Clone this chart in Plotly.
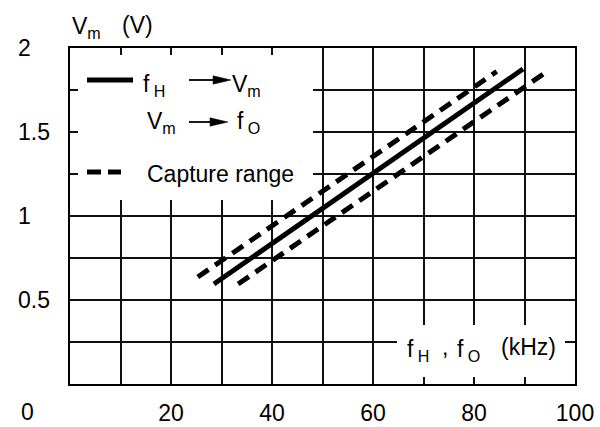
import plotly.graph_objects as go

# ---- data ----
solid_fH = [28.5, 89.7]
solid_Vm = [0.595, 1.875]
upper_f = [25.3, 84.5]
upper_V = [0.637, 1.86]
lower_f = [33.3, 94.7]
lower_V = [0.595, 1.865]

x_grid_vals = [10, 20, 30, 40, 50, 60, 70, 80, 90, 100]
x_tick_text = ["", "20", "", "40", "", "60", "", "80", "", "100"]
y_label_vals = [0.5, 1.0, 1.5, 2.0]
y_label_text = ["0.5", "1", "1.5", "2"]

FONT = "Liberation Sans, Arial, Helvetica, sans-serif"
FS = 23
W, H = 600, 427
L, R, T, B = 70, 25, 48, 43
PW, PH = W - L - R, H - T - B


def px(xp):
    return (xp - L) / PW


def py(yp):
    return (T + PH - yp) / PH


def dx(xp):
    return (xp - L) / PW * 100


def dy(yp):
    return (T + PH - yp) / PH * 2


fig = go.Figure()


def white_box(x0, x1, y0, y1):
    fig.add_trace(go.Scatter(
        x=[dx(x0), dx(x1), dx(x1), dx(x0), dx(x0)],
        y=[dy(y0), dy(y0), dy(y1), dy(y1), dy(y0)],
        mode="lines", fill="toself", fillcolor="white",
        line=dict(width=0, color="white"), showlegend=False, hoverinfo="skip"))


white_box(78, 313, 55, 200)
white_box(397, 565, 325, 377)

fig.add_trace(go.Scatter(x=solid_fH, y=solid_Vm, mode="lines",
                         line=dict(color="black", width=5), showlegend=False,
                         hoverinfo="skip"))
fig.add_trace(go.Scatter(x=upper_f, y=upper_V, mode="lines",
                         line=dict(color="black", width=5, dash="13px,8px"),
                         showlegend=False, hoverinfo="skip"))
fig.add_trace(go.Scatter(x=lower_f, y=lower_V, mode="lines",
                         line=dict(color="black", width=5, dash="13px,8px"),
                         showlegend=False, hoverinfo="skip"))

shapes = []
# legend samples
shapes.append(dict(type="line", xref="paper", yref="paper",
                   x0=px(87), x1=px(133), y0=py(80), y1=py(80),
                   line=dict(color="black", width=5)))
shapes.append(dict(type="line", xref="paper", yref="paper",
                   x0=px(87), x1=px(101), y0=py(172), y1=py(172),
                   line=dict(color="black", width=5)))
shapes.append(dict(type="line", xref="paper", yref="paper",
                   x0=px(108), x1=px(121), y0=py(172), y1=py(172),
                   line=dict(color="black", width=5)))


def arrow(x0, x1, yy):
    shapes.append(dict(type="line", xref="paper", yref="paper",
                       x0=px(x0), x1=px(x1 - 15), y0=py(yy), y1=py(yy),
                       line=dict(color="black", width=1.8)))
    path = "M {:.5f},{:.5f} L {:.5f},{:.5f} L {:.5f},{:.5f} Z".format(
        px(x1 - 18), py(yy - 4.2), px(x1), py(yy), px(x1 - 18), py(yy + 4.2))
    shapes.append(dict(type="path", xref="paper", yref="paper", path=path,
                       fillcolor="black", line=dict(color="black", width=0.5)))


arrow(189, 231, 80)
arrow(189, 228, 122)

ann = []


def text(t, xp, yp, xanchor="left", size=FS):
    ann.append(dict(text=t, xref="paper", yref="paper", x=px(xp), y=py(yp),
                    xanchor=xanchor, yanchor="middle", showarrow=False,
                    font=dict(family=FONT, size=size, color="black")))


text("f<sub>&nbsp;H</sub>", 141, 85)
text("V<sub>m</sub>", 230, 85)
text("V<sub>m</sub>", 145, 122)
text("f<sub>&nbsp;O</sub>", 235, 122)
text("Capture range", 145, 174)
text("V<sub>m</sub>", 70, 28)
text("(V)", 120, 25)
# x-axis title pieces
text("f<sub>&nbsp;H</sub>", 405, 350)
text(",", 440, 347)
text("f<sub>&nbsp;O</sub>", 455, 350)
text("(kHz)", 499, 347)
text("0", 27, 412, xanchor="center")

for v, t in zip(y_label_vals, y_label_text):
    ann.append(dict(text=t, xref="paper", yref="y", x=px(16), y=v,
                    xanchor="left", yanchor="middle", showarrow=False,
                    font=dict(family=FONT, size=FS, color="black")))

fig.update_layout(
    width=W, height=H,
    margin=dict(l=L, r=R, t=T, b=B, autoexpand=False),
    paper_bgcolor="white", plot_bgcolor="white",
    font=dict(family=FONT, size=FS, color="black"),
    shapes=shapes, annotations=ann,
    showlegend=False,
)
fig.update_xaxes(range=[0, 100], tickvals=x_grid_vals, ticktext=x_tick_text,
                 showgrid=True, gridcolor="#111", gridwidth=1.5,
                 showline=True, mirror=True, linecolor="black", linewidth=2,
                 ticks="", ticklabelstandoff=7, zeroline=False, automargin=False,
                 tickfont=dict(family=FONT, size=FS, color="black"))
fig.update_yaxes(range=[0, 2], dtick=0.25, tick0=0,
                 showgrid=True, gridcolor="#111", gridwidth=1.5,
                 showline=True, mirror=True, linecolor="black", linewidth=2,
                 ticks="", showticklabels=False, zeroline=False, automargin=False)

fig.write_html("out.html", config={"displayModeBar": False},
               post_script="document.body.style.margin='0';document.body.style.overflow='hidden';")
